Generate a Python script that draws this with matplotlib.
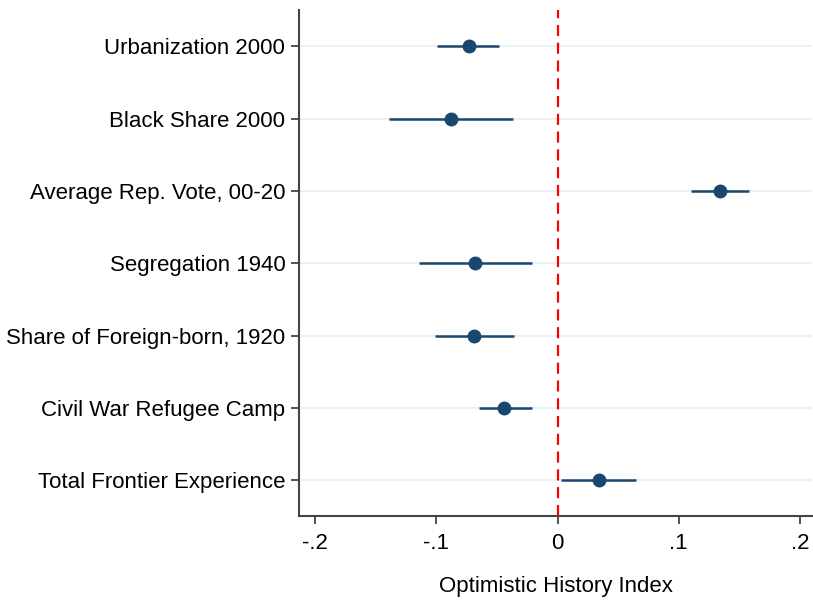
import matplotlib
matplotlib.use("Agg")
import matplotlib.pyplot as plt
from matplotlib.ticker import FuncFormatter

plt.rcParams['font.family'] = ['Liberation Sans', 'DejaVu Sans']

# Coefficients and confidence intervals
variables = [
    "Urbanization 2000",
    "Black Share 2000",
    "Average Rep. Vote, 00-20",
    "Segregation 1940",
    "Share of Foreign-born, 1920",
    "Civil War Refugee Camp",
    "Total Frontier Experience",
]
coef = [-0.073, -0.088, 0.134, -0.068, -0.069, -0.044, 0.034]
ci_low = [-0.099, -0.139, 0.110, -0.114, -0.101, -0.065, 0.003]
ci_high = [-0.048, -0.037, 0.158, -0.021, -0.036, -0.021, 0.065]
xticks = [-0.2, -0.1, 0, 0.1, 0.2]

navy = '#1a476f'
ypos = list(range(len(variables), 0, -1))

fig = plt.figure(figsize=(8.13, 6.01), dpi=100)
ax = fig.add_axes([0.368, 0.141, 0.631, 0.842])

for y in ypos:
    ax.axhline(y, color='#eaf2f3', lw=1.5, zorder=0)

ax.hlines(ypos, ci_low, ci_high, color=navy, lw=1.8, zorder=2)
ax.plot(coef, ypos, 'o', color=navy, markersize=9, zorder=3)
ax.axvline(0, color='#ff0000', lw=1.6, ls=(0, (5, 3)), zorder=1)

ax.set_xlim(-0.213, 0.210)
ax.set_ylim(0.5, len(variables) + 0.5)
ax.set_yticks(ypos)
ax.set_yticklabels(variables, fontsize=16)
ax.set_xticks(xticks)

def fmt(v, pos):
    if abs(v) < 1e-9:
        return "0"
    s = f"{v:.1f}"
    return s.replace("0.", ".")

ax.xaxis.set_major_formatter(FuncFormatter(fmt))
ax.tick_params(axis='x', labelsize=16, length=6, width=1.2, color='#333333', pad=6)
ax.tick_params(axis='y', length=6, width=1.2, color='#333333', pad=4)
ax.set_xlabel("Optimistic History Index", fontsize=16, labelpad=16)

for side in ['top', 'right']:
    ax.spines[side].set_visible(False)
for side in ['left', 'bottom']:
    ax.spines[side].set_linewidth(1.5)
    ax.spines[side].set_color('#444444')

fig.savefig("out.png", dpi=100)
